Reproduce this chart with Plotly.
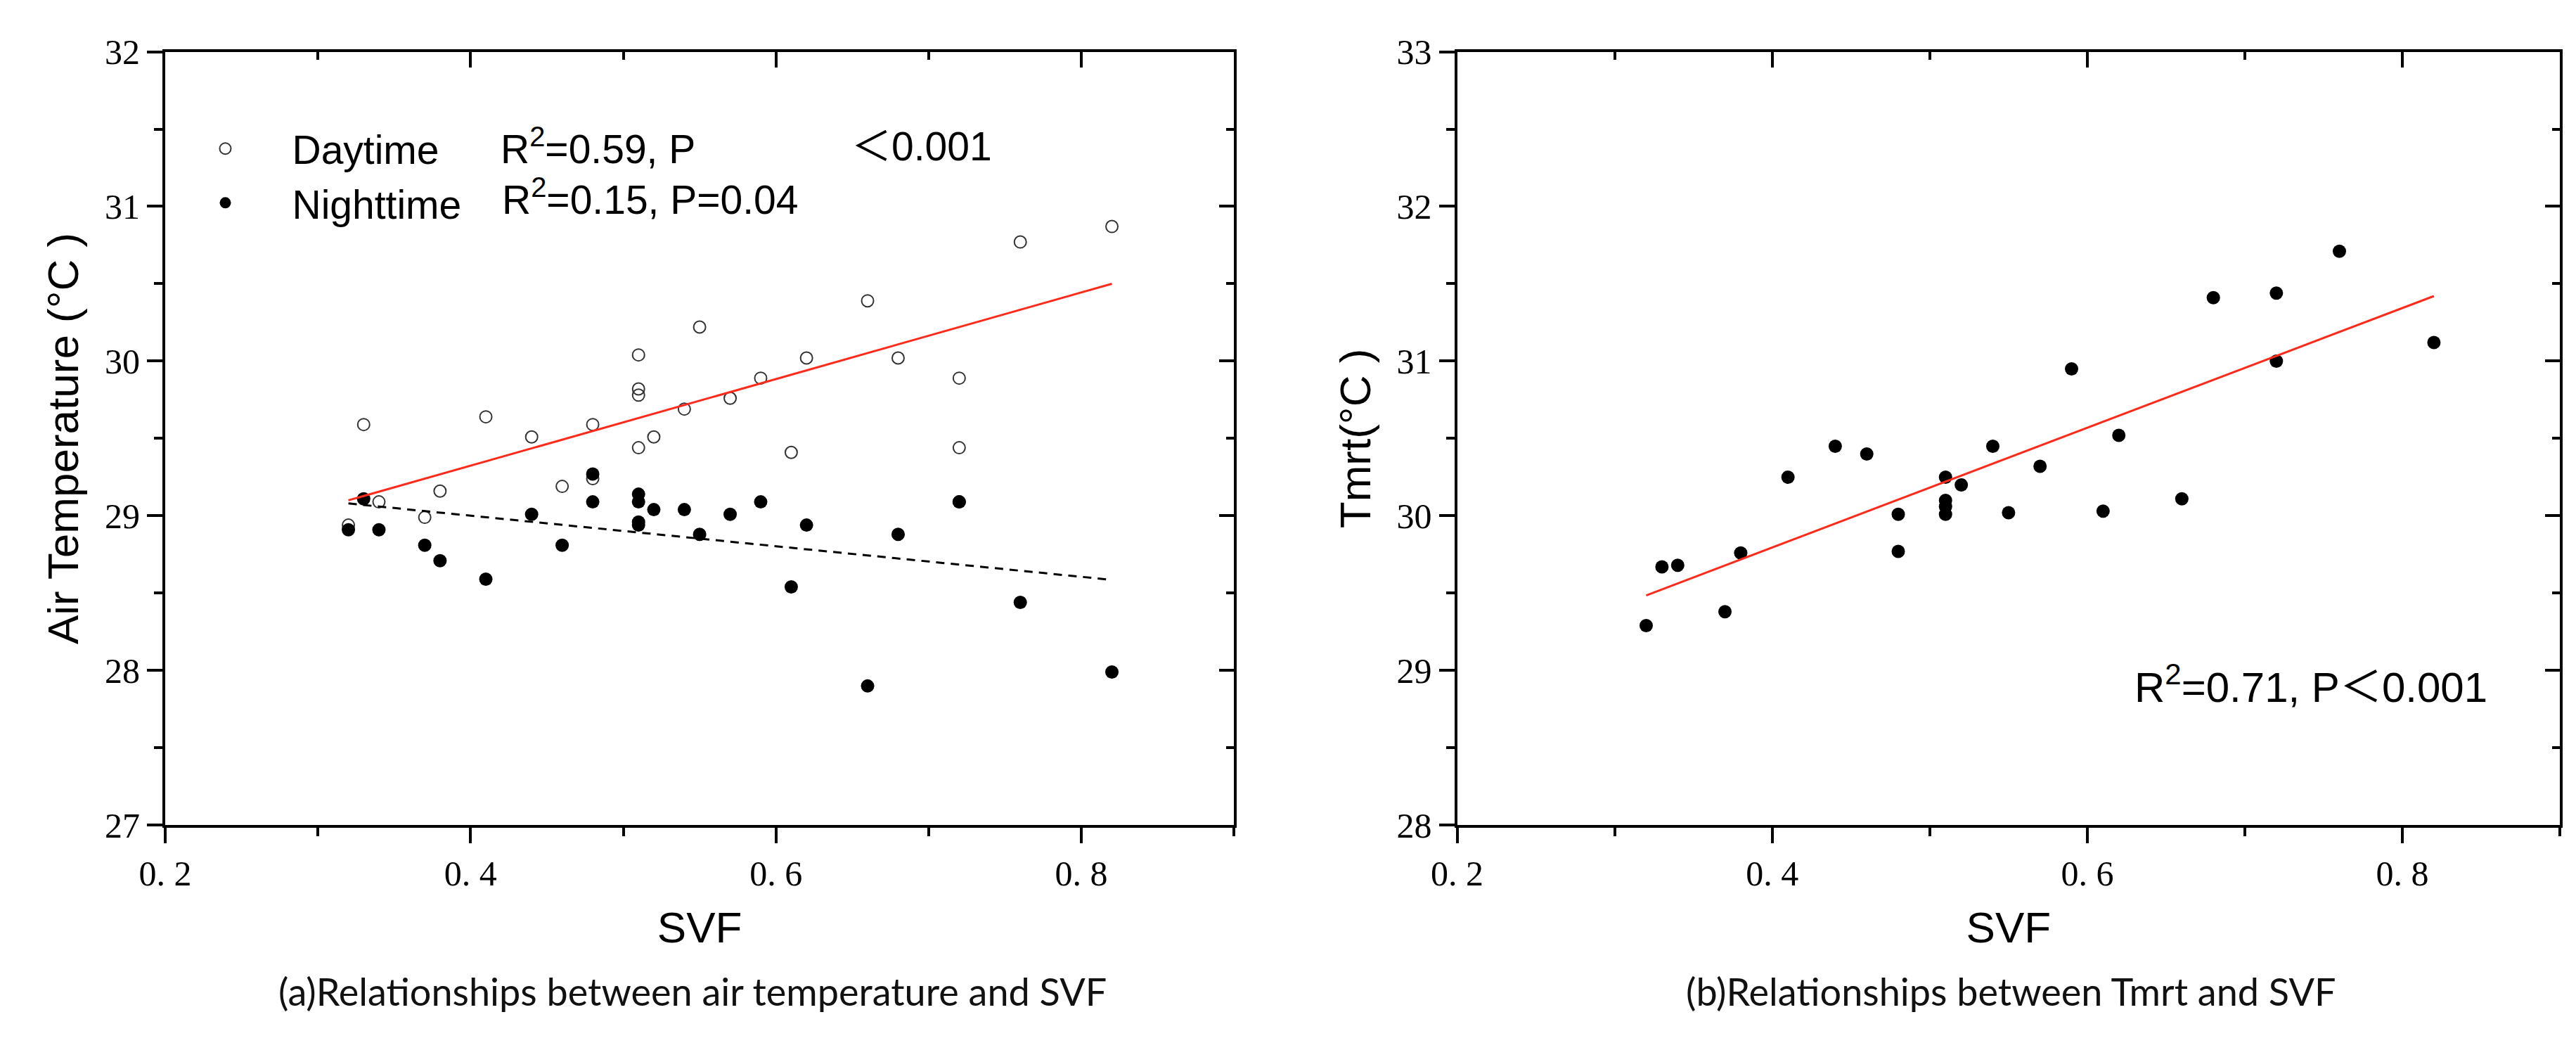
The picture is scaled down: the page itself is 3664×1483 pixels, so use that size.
import plotly.graph_objects as go
import numpy as np

# SVF of the measuring sites (same sites in both panels)
svf = [0.32, 0.33, 0.34, 0.37, 0.38, 0.41, 0.44, 0.46, 0.48, 0.48,
       0.51, 0.51, 0.51, 0.51, 0.52, 0.54, 0.55, 0.57, 0.59, 0.61,
       0.62, 0.66, 0.68, 0.72, 0.72, 0.76, 0.82]

# air temperature, daytime / nighttime
day_temp = [28.94, 29.59, 29.09, 28.99, 29.16, 29.64, 29.51, 29.19, 29.59, 29.24,
            30.04, 29.82, 29.78, 29.44, 29.51, 29.69, 30.22, 29.76, 29.89, 29.41,
            30.02, 30.39, 30.02, 29.89, 29.44, 30.77, 30.87]
night_temp = [28.91, 29.11, 28.91, 28.81, 28.71, 28.59, 29.01, 28.81, 29.27, 29.09,
              29.14, 29.09, 28.96, 28.94, 29.04, 29.04, 28.88, 29.01, 29.09, 28.54,
              28.94, 27.90, 28.88, 29.09, 29.09, 28.44, 27.99]

# mean radiant temperature
tmrt = [29.29, 29.67, 29.68, 29.38, 29.76, 30.25, 30.45, 30.40, 30.01, 29.77,
        30.25, 30.10, 30.06, 30.01, 30.20, 30.45, 30.02, 30.32, 30.95, 30.03,
        30.52, 30.11, 31.41, 31.44, 31.00, 31.71, 31.12]

# linear fits (slope, intercept) as drawn in the figure
day_fit = [2.80, 28.204]
night_fit = [-0.988, 29.396]
tmrt_fit = [3.87, 28.247]

x_ticks = [0.2, 0.4, 0.6, 0.8]
x_ticklabels = ["0. 2", "0. 4", "0. 6", "0. 8"]
x_minor = [0.3, 0.5, 0.7, 0.9]
y1_ticks = [27, 28, 29, 30, 31, 32]
y2_ticks = [28, 29, 30, 31, 32, 33]

SANS = "Liberation Sans, Arial, Noto Sans CJK SC"
SERIF = "Liberation Serif, Times New Roman, serif"
CAP = "Lato, Open Sans, sans-serif"

x_fit = np.array([min(svf), max(svf)])

fig = go.Figure()

# (a) air temperature
fig.add_trace(go.Scatter(x=svf, y=day_temp, mode='markers', name='Daytime',
                         marker=dict(symbol='circle-open', size=17, color='#333333',
                                     line=dict(width=2, color='#333333')),
                         xaxis='x', yaxis='y'))
fig.add_trace(go.Scatter(x=svf, y=night_temp, mode='markers', name='Nighttime',
                         marker=dict(symbol='circle', size=19, color='black'),
                         xaxis='x', yaxis='y'))
fig.add_trace(go.Scatter(x=x_fit, y=day_fit[0] * x_fit + day_fit[1], mode='lines',
                         line=dict(color='#ff2a1a', width=3), showlegend=False,
                         xaxis='x', yaxis='y'))
fig.add_trace(go.Scatter(x=x_fit, y=night_fit[0] * x_fit + night_fit[1], mode='lines',
                         line=dict(color='black', width=3, dash='12px,9px'), showlegend=False,
                         xaxis='x', yaxis='y'))

# (b) Tmrt
fig.add_trace(go.Scatter(x=svf, y=tmrt, mode='markers', showlegend=False,
                         marker=dict(symbol='circle', size=19, color='black'),
                         xaxis='x2', yaxis='y2'))
fig.add_trace(go.Scatter(x=x_fit, y=tmrt_fit[0] * x_fit + tmrt_fit[1], mode='lines',
                         line=dict(color='#ff2a1a', width=3), showlegend=False,
                         xaxis='x2', yaxis='y2'))

# empty traces so the mirrored (inward tick) axes get drawn
for xa, ya in [('x3', 'y'), ('x', 'y3'), ('x4', 'y2'), ('x2', 'y4')]:
    fig.add_trace(go.Scatter(x=[None], y=[None], xaxis=xa, yaxis=ya,
                             showlegend=False, hoverinfo='skip'))

tick_font = dict(family=SERIF, size=50, color='black')
title_font = dict(family=SANS, size=62, color='black')


def x_main(domain, anchor):
    return dict(domain=domain, anchor=anchor, range=[0.2, 0.9],
                tickmode='array', tickvals=x_ticks, ticktext=x_ticklabels,
                ticks='outside', ticklen=22, tickwidth=4, tickcolor='black',
                minor=dict(tickmode='array', tickvals=x_minor, ticks='outside',
                           ticklen=12, tickwidth=4, tickcolor='black'),
                showline=True, linewidth=4, linecolor='black', mirror=True,
                showgrid=False, zeroline=False, tickfont=tick_font,
                title=dict(text='SVF', font=title_font, standoff=28))


def y_main(domain, anchor, rng, ticks, title):
    return dict(domain=domain, anchor=anchor, range=rng,
                tickmode='array', tickvals=ticks,
                ticks='outside', ticklen=22, tickwidth=4, tickcolor='black',
                minor=dict(dtick=0.5, tick0=rng[0], ticks='outside',
                           ticklen=12, tickwidth=4, tickcolor='black'),
                showline=True, linewidth=4, linecolor='black', mirror=True,
                showgrid=False, zeroline=False, tickfont=tick_font,
                title=dict(text=title, font=title_font, standoff=18))


def x_mirror(over, anchor):
    return dict(overlaying=over, anchor=anchor, side='top', range=[0.2, 0.9],
                tickmode='array', tickvals=x_ticks, showticklabels=False,
                ticks='inside', ticklen=22, tickwidth=4, tickcolor='black',
                minor=dict(tickmode='array', tickvals=x_minor, ticks='inside',
                           ticklen=11, tickwidth=4, tickcolor='black'),
                showline=False, showgrid=False, zeroline=False)


def y_mirror(over, anchor, rng, ticks):
    return dict(overlaying=over, anchor=anchor, side='right', range=rng,
                tickmode='array', tickvals=ticks, showticklabels=False,
                ticks='inside', ticklen=21, tickwidth=4, tickcolor='black',
                minor=dict(dtick=0.5, tick0=rng[0], ticks='inside',
                           ticklen=11, tickwidth=4, tickcolor='black'),
                showline=False, showgrid=False, zeroline=False)


y_dom = [0.2023, 0.9730]
fig.update_layout(
    width=3664, height=1483,
    margin=dict(l=0, r=0, t=0, b=0),
    paper_bgcolor='white', plot_bgcolor='white',
    xaxis=x_main([0.0521, 0.4714], 'y'),
    yaxis=y_main(y_dom, 'x', [27, 32], y1_ticks, 'Air Temperature (°C )'),
    xaxis2=x_main([0.5589, 0.9915], 'y2'),
    yaxis2=y_main(y_dom, 'x2', [28, 33], y2_ticks, 'Tmrt(°C )'),
    xaxis3=x_mirror('x', 'y'),
    yaxis3=y_mirror('y', 'x', [27, 32], y1_ticks),
    xaxis4=x_mirror('x2', 'y2'),
    yaxis4=y_mirror('y2', 'x2', [28, 33], y2_ticks),
    showlegend=True,
    legend=dict(x=0.0495, y=0.907, xanchor='left', yanchor='top',
                font=dict(family=SANS, size=57, color='black'),
                itemwidth=180, bgcolor='rgba(0,0,0,0)', tracegroupgap=0),
)

ann_font = dict(family=SANS, size=57, color='black')
fig.add_annotation(x=671 / 3664, y=0.8786, xref='paper', yref='paper', xanchor='left',
                   yanchor='middle', text='R<sup>2</sup>=0.59, P', showarrow=False, font=ann_font)
fig.add_annotation(x=1175 / 3664, y=0.8786, xref='paper', yref='paper', xanchor='left',
                   yanchor='middle', text='＜0.001', showarrow=False, font=ann_font)
fig.add_annotation(x=673 / 3664, y=0.828, xref='paper', yref='paper', xanchor='left',
                   yanchor='middle', text='R<sup>2</sup>=0.15, P=0.04', showarrow=False, font=ann_font)
fig.add_annotation(x=3019 / 3664, y=0.3425, xref='paper', yref='paper', xanchor='left',
                   yanchor='middle', text='R<sup>2</sup>=0.71, P＜0.001', showarrow=False,
                   font=dict(family=SANS, size=60, color='black'))

cap_font = dict(family=CAP, size=54, color='#111111')
fig.add_annotation(x=949 / 3664, y=0.0371, xref='paper', yref='paper', xanchor='center',
                   yanchor='middle', text='(a)Relationships between air temperature and SVF',
                   showarrow=False, font=cap_font)
fig.add_annotation(x=2844 / 3664, y=0.0371, xref='paper', yref='paper', xanchor='center',
                   yanchor='middle', text='(b)Relationships between Tmrt and SVF',
                   showarrow=False, font=cap_font)

fig.write_html("out.html")
